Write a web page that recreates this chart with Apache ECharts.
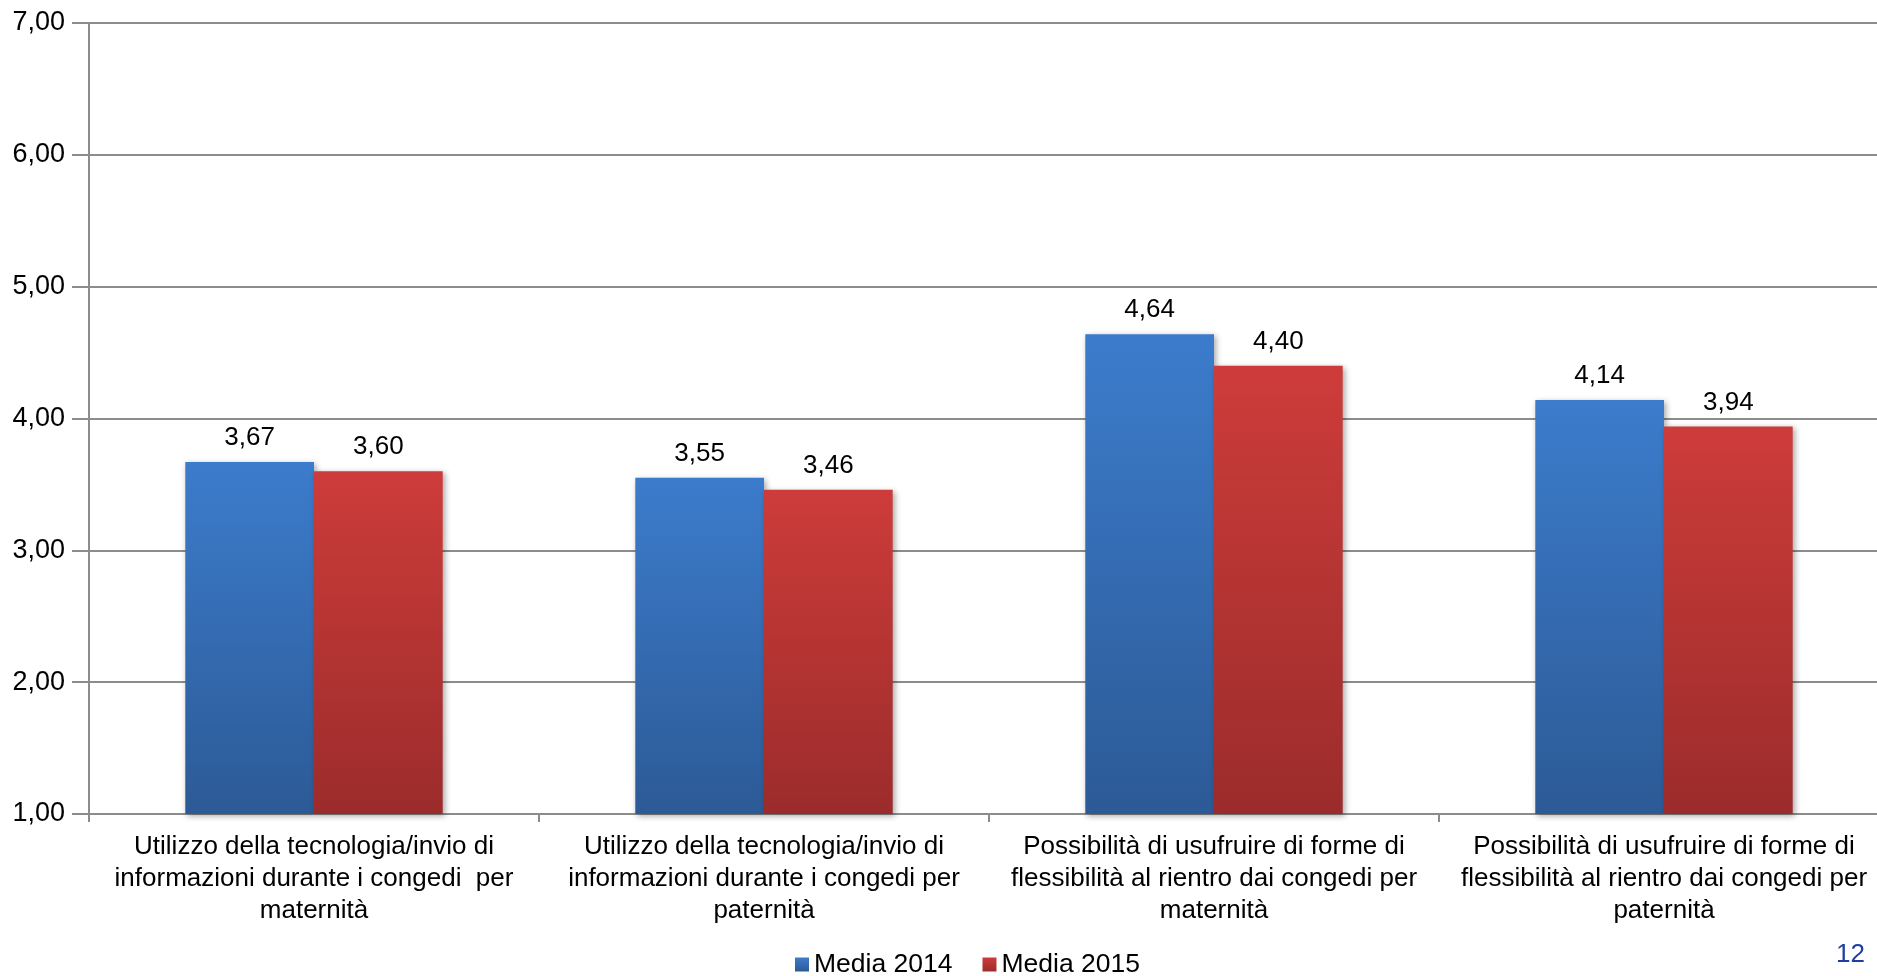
<!DOCTYPE html>
<html>
<head>
<meta charset="utf-8">
<script src="https://cdn.jsdelivr.net/npm/echarts@6/dist/echarts.min.js"></script>
<style>
html,body{margin:0;padding:0;background:#fff;}
#chart{width:1877px;height:976px;}
#page{position:absolute;left:1836px;top:938px;font-family:Arial,"Liberation Sans",sans-serif;font-size:26px;color:#1f3fa0;}
</style>
</head>
<body>
<div id="chart"></div>
<div id="page">12</div>
<script>
const categories = [
  "Utilizzo della tecnologia/invio di\ninformazioni durante i congedi  per\nmaternità",
  "Utilizzo della tecnologia/invio di\ninformazioni durante i congedi per\npaternità",
  "Possibilità di usufruire di forme di\nflessibilità al rientro dai congedi per\nmaternità",
  "Possibilità di usufruire di forme di\nflessibilità al rientro dai congedi per\npaternità"
];
const media2014 = [3.67, 3.55, 4.64, 4.14];
const media2015 = [3.60, 3.46, 4.40, 3.94];
const seriesNames = ["Media 2014", "Media 2015"];

const font = 'Arial, "Liberation Sans", sans-serif';
const fmt = v => v.toFixed(2).replace('.', ',');

const chart = echarts.init(document.getElementById('chart'));
chart.setOption({
  animation: false,
  textStyle: { fontFamily: font },
  grid: { left: 89, width: 1800, top: 23, bottom: 162, containLabel: false, outerBoundsMode: 'none' },
  legend: {
    top: 946, left: 790,
    itemWidth: 14, itemHeight: 14, itemGap: 30,
    icon: 'rect',
    textStyle: { fontSize: 26.5, color: '#000', fontFamily: font, padding: [0,0,0,0] },
    data: seriesNames
  },
  xAxis: {
    type: 'category',
    data: categories,
    axisLine: { lineStyle: { color: '#8c8c8c', width: 2 } },
    axisTick: { show: true, length: 8, lineStyle: { color: '#8c8c8c', width: 2 } },
    axisLabel: { fontSize: 26, color: '#000', fontFamily: font, lineHeight: 32, margin: 17, interval: 0 }
  },
  yAxis: {
    type: 'value', min: 1, max: 7, interval: 1,
    axisLine: { show: true, lineStyle: { color: '#8c8c8c', width: 2 } },
    axisTick: { show: true, length: 17, lineStyle: { color: '#8c8c8c', width: 2 } },
    splitLine: { lineStyle: { color: '#8c8c8c', width: 2 } },
    axisLabel: { fontSize: 27, color: '#000', fontFamily: font, margin: 24, formatter: v => fmt(v) }
  },
  series: [
    {
      name: seriesNames[0], type: 'bar', data: media2014,
      barGap: '0%', barCategoryGap: '42.8%',
      itemStyle: {
        color: new echarts.graphic.LinearGradient(0,0,0,1,[{offset:0,color:'#3c7ccc'},{offset:1,color:'#2c5a96'}]),
        shadowColor: 'rgba(0,0,0,0.35)', shadowBlur: 6, shadowOffsetX: 2, shadowOffsetY: 2
      },
      label: { show: true, position: 'top', distance: 11, fontSize: 26, fontFamily: font, color: '#000', formatter: p => fmt(p.value) }
    },
    {
      name: seriesNames[1], type: 'bar', data: media2015,
      itemStyle: {
        color: new echarts.graphic.LinearGradient(0,0,0,1,[{offset:0,color:'#cd3c3a'},{offset:1,color:'#9b2c2b'}]),
        shadowColor: 'rgba(0,0,0,0.35)', shadowBlur: 6, shadowOffsetX: 2, shadowOffsetY: 2
      },
      label: { show: true, position: 'top', distance: 11, fontSize: 26, fontFamily: font, color: '#000', formatter: p => fmt(p.value) }
    }
  ]
});
</script>
</body>
</html>
